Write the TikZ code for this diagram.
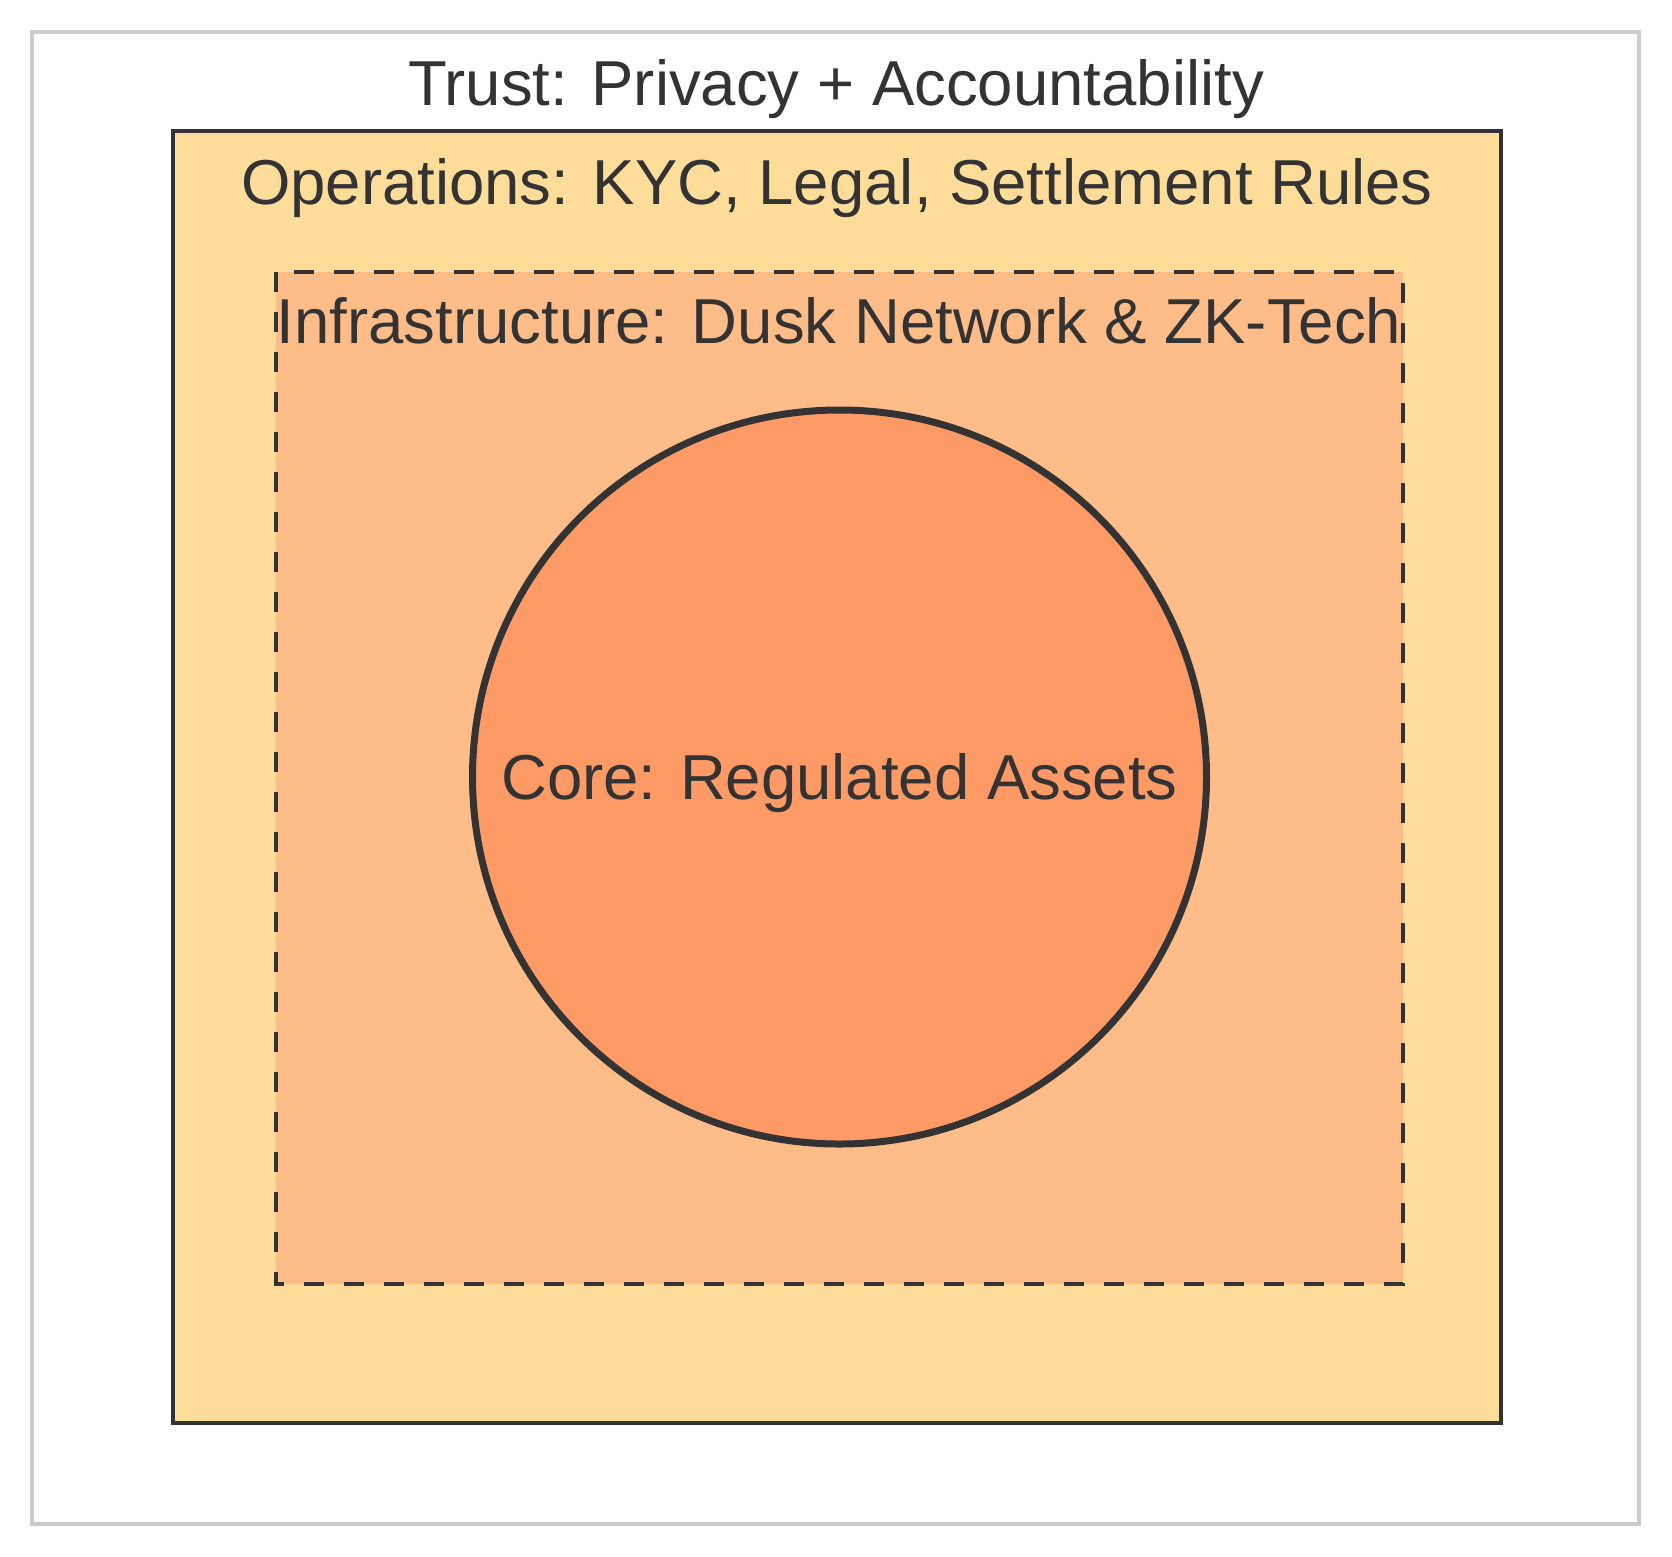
\documentclass[tikz,border=0pt]{standalone}
\usepackage{fontspec}
\setmainfont{Liberation Sans}
\definecolor{ink}{HTML}{333333}
\definecolor{greyline}{HTML}{CCCCCC}
\definecolor{opsfill}{HTML}{FEDC9A}
\definecolor{infrafill}{HTML}{FEBC88}
\definecolor{corefill}{HTML}{FE9A66}
\tikzset{
  lbl/.style={anchor=base, inner sep=0pt, text=ink, font=\fontsize{63.5}{76}\selectfont},
}
\begin{document}
\begin{tikzpicture}[x=1pt,y=-1pt]
\useasboundingbox[fill=white] (0,0) rectangle (1672,1556);
\draw[greyline, line width=3.5pt] (32,32) rectangle (1639,1524);
\draw[ink, fill=opsfill, line width=4pt] (173,131) rectangle (1501,1423);
\draw[ink, fill=infrafill, line width=3.5pt, dash pattern=on 20pt off 20pt] (276,272) rectangle (1403,1284);
\node[circle, draw=ink, fill=corefill, line width=7pt, minimum size=734pt, inner sep=0pt] (core) at (839.5,777) {};
\node[lbl] (trust) at (836,105) {Trust: Privacy + Accountability};
\node[lbl] (ops) at (837,204) {Operations: KYC, Legal, Settlement Rules};
\node[lbl] (infra) at (839,343) {Infrastructure: Dusk Network \& ZK-Tech};
\node[lbl] (corelbl) at (839.5,799) {Core: Regulated Assets};
\end{tikzpicture}
\end{document}
